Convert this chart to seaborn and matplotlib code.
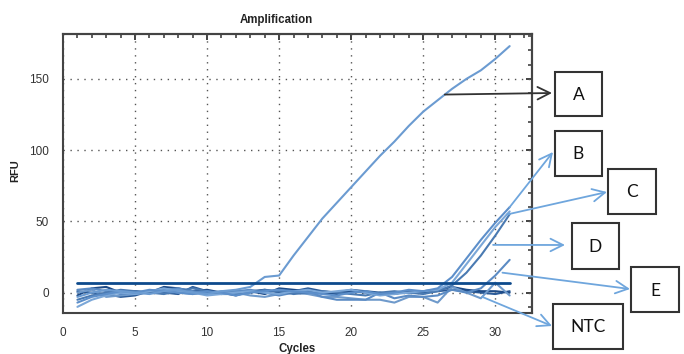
import numpy as np
import pandas as pd
import matplotlib
matplotlib.use("Agg")
import matplotlib.pyplot as plt
import seaborn as sns
from matplotlib.patches import Rectangle
from matplotlib.ticker import MultipleLocator, NullFormatter

# ---------------- data ----------------
cycles = list(range(1, 32))
curve_A = [-3, 0, 2, 1, 0, -1, 1, 2, 0, -1, 1, 2, 4, 11, 12, 26, 39, 52, 63, 74,
           85, 96, 106, 117, 127, 135, 143, 150, 156, 164, 173]
curve_B = [-7, -3, -1, 1, 0, 2, 1, 0, -1, 1, 0, -2, 0, 1, 2, 1, 0, -1, -2, 0,
           1, -1, 0, 2, 1, 3, 11, 24, 37, 49, 60]
curve_C = [-10, -5, -2, 0, -1, 1, 3, 1, 0, -2, -1, 0, 1, 0, -1, 1, 2, 0, 1, 2,
           0, -2, -1, 0, 1, 2, 7, 20, 33, 46, 57]
curve_D = [-5, -2, 0, 2, 1, 0, -1, 1, 3, 1, -1, -1, 0, 2, 1, -1, 0, 1, 0, -1,
           -2, 0, 1, 0, -1, 1, 5, 14, 26, 40, 55]
curve_E = [2, 3, 1, -1, 0, 1, 2, 3, 1, 0, -1, 1, 2, 0, -2, 0, 1, -3, -5, -5,
           -5, 0, -4, -2, -3, -2, 2, 0, 3, 12, 23]
curve_NTC = [0, 2, -3, -2, -1, 0, 2, 0, -1, 0, 1, 0, -2, -3, -1, 0, -1, -3, -3, -4,
             -5, -5, -7, -3, -3, -7, 4, 0, -4, 7, -2]
curve_W1 = [-2, 3, 4, 0, 1, 0, 4, 3, 1, 2, 0, 1, 1, -1, 3, 2, 1, 0, -1, 1,
            0, -1, 0, 0, 1, 2, 4, 2, 1, 1, 0]
curve_W2 = [1, 0, -1, -3, -2, 1, 0, -1, 4, 1, 0, -2, 1, 2, 0, 1, 3, 1, 0, 2,
            1, 0, -1, 1, 0, 1, 2, 1, 0, -1, 1]
threshold = 7

wells = ["A", "B", "C", "D", "E", "NTC", "W1", "W2"]
series = [curve_A, curve_B, curve_C, curve_D, curve_E, curve_NTC, curve_W1, curve_W2]
palette = {"A": "#6b9bd1", "B": "#5d8fca", "C": "#7ba7d8", "D": "#4a7ab2",
           "E": "#5b8bc4", "NTC": "#6f9acb", "W1": "#1c4a87", "W2": "#2b5b98"}

# labels: anchor cycle / RFU on the curve where each arrow starts
labels = ["A", "B", "C", "D", "E", "NTC"]
anchor_cycle = [26.5, 31.0, 30.8, 29.85, 30.5, 29.1]
anchor_rfu = [None, None, None, 33.5, 14.0, -3.0]

df = pd.DataFrame({
    "Cycles": cycles * len(wells),
    "RFU": sum(series, []),
    "well": sum([[w] * len(cycles) for w in wells], []),
})

# ---------------- figure ----------------
W, H = 684, 354
sns.set_style("white")
plt.rcParams["font.family"] = ["Liberation Sans", "DejaVu Sans"]
fig = plt.figure(figsize=(W / 100, H / 100), dpi=100)
ax = fig.add_axes([63 / W, 1 - 313 / H, (532 - 63) / W, (313 - 34) / H])

sns.lineplot(data=df, x="Cycles", y="RFU", hue="well", palette=palette,
             hue_order=wells[::-1], ax=ax, legend=False, linewidth=1.5,
             estimator=None)
ax.plot([cycles[0], cycles[-1]], [threshold, threshold], color="#0d4a8c", lw=2.0,
        zorder=5)

ax.set_xlim(0, 32.55)
ax.set_ylim(-14.3, 181.5)
ax.xaxis.set_major_locator(MultipleLocator(5))
ax.xaxis.set_minor_locator(MultipleLocator(1))
ax.yaxis.set_major_locator(MultipleLocator(50))
ax.yaxis.set_minor_locator(MultipleLocator(10))
ax.grid(True, which="major", color="#555555", linestyle=(0, (1, 4)), linewidth=1.0)
ax.set_axisbelow(True)
ax.tick_params(which="major", direction="inout", length=8, width=1.3, color="#333333",
               labelsize=8.5, labelcolor="#333333", pad=6)
ax.tick_params(which="minor", direction="inout", length=5, width=1.1, color="#333333")

# inward ticks on top and right, no labels
secx = ax.secondary_xaxis("top")
secy = ax.secondary_yaxis("right")
secx.xaxis.set_major_locator(MultipleLocator(5))
secx.xaxis.set_minor_locator(MultipleLocator(1))
secx.xaxis.set_major_formatter(NullFormatter())
secy.yaxis.set_major_locator(MultipleLocator(50))
secy.yaxis.set_minor_locator(MultipleLocator(10))
secy.yaxis.set_major_formatter(NullFormatter())
for sec in (secx, secy):
    sec.tick_params(which="major", direction="in", length=4, width=1.3, color="#333333")
    sec.tick_params(which="minor", direction="in", length=3, width=1.1, color="#333333")
    for s in sec.spines.values():
        s.set_color("#444444")
        s.set_linewidth(1.5)

for s in ax.spines.values():
    s.set_color("#444444")
    s.set_linewidth(1.5)
ax.set_xlabel("")
ax.set_ylabel("")

fig.text(276 / W, 1 - 20 / H, "Amplification", ha="center", va="center",
         fontsize=8.3, fontweight="bold", color="#222222")
fig.text(15 / W, 1 - 171 / H, "RFU", rotation=90, ha="center", va="center",
         fontsize=8, fontweight="bold", color="#222222")
fig.text(297 / W, 1 - 343 / H, "Cycles", ha="center", va="top",
         fontsize=8.3, fontweight="bold", color="#222222")

# boxes (figure pixels: x0, y0 top, x1, y1 bottom)
boxes = {"A": (555, 72, 602, 116), "B": (555, 131, 602, 176),
         "C": (608, 169, 656, 214), "D": (572, 223, 619, 269),
         "E": (631, 267, 679, 312), "NTC": (553, 304, 623, 349)}
arrow_end = {"A": (552, 93), "B": (553, 152), "C": (607, 192), "D": (565, 245),
             "E": (630, 289), "NTC": (552, 326)}
arrow_col = {"A": "#333333", "B": "#6fa6dd", "C": "#6fa6dd", "D": "#6fa6dd",
             "E": "#6fa6dd", "NTC": "#6fa6dd"}

for lab, cyc, rfu in zip(labels, anchor_cycle, anchor_rfu):
    vals = series[wells.index(lab)]
    yv = float(np.interp(cyc, cycles, vals)) if rfu is None else rfu
    ex, ey = arrow_end[lab]
    ax.annotate("", xy=(ex / W, 1 - ey / H), xycoords="figure fraction",
                xytext=(cyc, yv), textcoords="data",
                arrowprops=dict(arrowstyle="->,head_length=0.9,head_width=0.45",
                                color=arrow_col[lab], lw=1.3,
                                shrinkA=0, shrinkB=0),
                annotation_clip=False, zorder=10)
    x0, y0, x1, y1 = boxes[lab]
    fig.patches.append(Rectangle((x0 / W, 1 - y1 / H), (x1 - x0) / W, (y1 - y0) / H,
                                 transform=fig.transFigure, fill=False,
                                 edgecolor="#333333", linewidth=1.5))
    fig.text((x0 + x1) / 2 / W, 1 - ((y0 + y1) / 2 + 1) / H, lab, ha="center",
             va="center", fontsize=12.5, family=["Lato", "DejaVu Sans"], color="#111111")

fig.savefig("out.png", dpi=100)
